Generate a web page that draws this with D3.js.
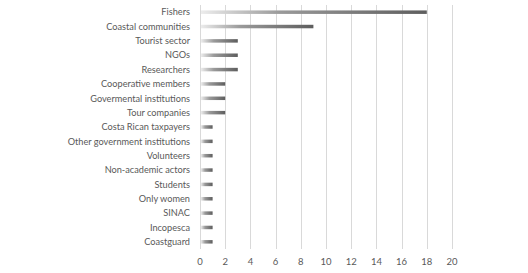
<!DOCTYPE html>
<html>
<head>
<meta charset="utf-8">
<script src="https://cdn.jsdelivr.net/npm/d3@7"></script>
<style>
  body { margin: 0; background: #fff; }
  text { font-family: Lato, "Open Sans", sans-serif; fill: #595959; }
</style>
</head>
<body>
<div id="chart"></div>
<script>
const categories = [
  "Fishers", "Coastal communities", "Tourist sector", "NGOs", "Researchers",
  "Cooperative members", "Govermental institutions", "Tour companies",
  "Costa Rican taxpayers", "Other government institutions", "Volunteers",
  "Non-academic actors", "Students", "Only women ", "SINAC", "Incopesca", "Coastguard"
];
const values = [18, 9, 3, 3, 3, 2, 2, 2, 1, 1, 1, 1, 1, 1, 1, 1, 1];
const xTicks = [0, 2, 4, 6, 8, 10, 12, 14, 16, 18, 20];

const width = 528;
const height = 273;
const margin = { top: 5, right: 76, bottom: 24, left: 200 };

const svg = d3.select("#chart")
  .append("svg")
  .attr("width", width)
  .attr("height", height);

// gradient fill like the original
const grad = svg.append("defs").append("linearGradient")
  .attr("id", "barGrad")
  .attr("x1", "0%").attr("x2", "100%")
  .attr("y1", "0%").attr("y2", "0%");
grad.append("stop").attr("offset", "0%").attr("stop-color", "#ececec");
grad.append("stop").attr("offset", "35%").attr("stop-color", "#9a9a9a");
grad.append("stop").attr("offset", "100%").attr("stop-color", "#5e5e5e");

const x = d3.scaleLinear()
  .domain([0, 20])
  .range([margin.left, width - margin.right]);

const y = d3.scaleBand()
  .domain(categories)
  .range([margin.top, height - margin.bottom]);

// gridlines
svg.append("g")
  .selectAll("line")
  .data(xTicks)
  .join("line")
  .attr("x1", d => Math.round(x(d)) + 0.5)
  .attr("x2", d => Math.round(x(d)) + 0.5)
  .attr("y1", margin.top)
  .attr("y2", height - margin.bottom)
  .attr("stroke", "#d9d9d9")
  .attr("stroke-width", 1);

// bars
const barH = 3.5;
svg.append("g")
  .selectAll("rect")
  .data(categories)
  .join("rect")
  .attr("x", x(0) + 1)
  .attr("y", d => y(d) + y.bandwidth() / 2 - barH / 2)
  .attr("width", (d, i) => x(values[i]) - x(0) - 1)
  .attr("height", barH)
  .attr("fill", "url(#barGrad)");

// category labels
svg.append("g")
  .selectAll("text")
  .data(categories)
  .join("text")
  .attr("x", x(0) - 10)
  .attr("y", d => y(d) + y.bandwidth() / 2)
  .attr("dy", "0.35em")
  .attr("text-anchor", "end")
  .attr("font-size", "9.2px")
  .text(d => d);

// x tick labels
svg.append("g")
  .selectAll("text")
  .data(xTicks)
  .join("text")
  .attr("x", d => x(d))
  .attr("y", 262)
  .attr("dy", "0.35em")
  .attr("text-anchor", "middle")
  .attr("font-size", "9.5px")
  .text(d => d);
</script>
</body>
</html>
